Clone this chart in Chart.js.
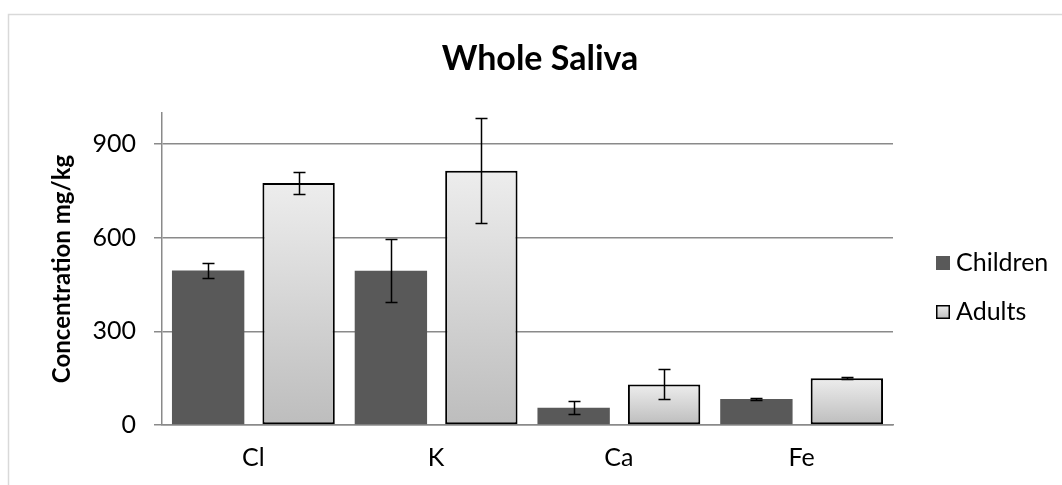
<!DOCTYPE html>
<html>
<head>
<meta charset="utf-8">
<script src="https://cdn.jsdelivr.net/npm/chart.js@4/dist/chart.umd.min.js"></script>
<style>
  html, body { margin: 0; padding: 0; background: #ffffff; }
  #wrap { position: relative; width: 1062px; height: 485px; }
</style>
</head>
<body>
<div id="wrap"><canvas id="c" width="1062" height="485"></canvas></div>
<script>
const categories = ['Cl', 'K', 'Ca', 'Fe'];
const childrenValues = [495, 494, 55, 83];
const childrenErrors = [23, 101, 21, 2];
const adultsValues = [776, 815, 130, 150];
const adultsErrors = [35, 168, 48, 3];
const yTickValues = [0, 300, 600, 900];
const seriesNames = ['Children', 'Adults'];
const chartTitle = 'Whole Saliva';
const yAxisTitle = 'Concentration mg/kg';

const FONT = 'Lato, "Open Sans", sans-serif';
const GRID = '#8a8a8a';

function adultGradient(ctx, top, bottom) {
  const g = ctx.createLinearGradient(0, top, 0, bottom);
  g.addColorStop(0, '#ededed');
  g.addColorStop(1, '#bdbdbd');
  return g;
}

const framePlugin = {
  id: 'frame',
  beforeDraw(chart) {
    const ctx = chart.ctx;
    ctx.save();
    ctx.fillStyle = '#ffffff';
    ctx.fillRect(0, 0, chart.width, chart.height);
    ctx.strokeStyle = '#d9d9d9';
    ctx.lineWidth = 1.5;
    ctx.beginPath();
    ctx.moveTo(8.5, chart.height + 2);
    ctx.lineTo(8.5, 14.5);
    ctx.lineTo(chart.width + 2, 14.5);
    ctx.stroke();
    ctx.restore();
  }
};

const titlePlugin = {
  id: 'customTitle',
  afterDraw(chart) {
    const ctx = chart.ctx;
    ctx.save();
    ctx.font = 'bold 34px ' + FONT;
    ctx.fillStyle = '#000000';
    ctx.textAlign = 'center';
    ctx.textBaseline = 'alphabetic';
    ctx.fillText(chartTitle, 540, 70);
    ctx.restore();
  }
};

const errorBarPlugin = {
  id: 'errorBars',
  afterDatasetsDraw(chart) {
    const ctx = chart.ctx;
    const yScale = chart.scales.y;
    const errs = [childrenErrors, adultsErrors];
    ctx.save();
    ctx.strokeStyle = '#000000';
    ctx.lineWidth = 1.5;
    chart.data.datasets.forEach((ds, di) => {
      const meta = chart.getDatasetMeta(di);
      meta.data.forEach((el, i) => {
        const v = ds.data[i];
        const e = errs[di][i];
        const yt = Math.round(yScale.getPixelForValue(v + e)) + 0.5;
        const yb = Math.round(yScale.getPixelForValue(v - e)) + 0.5;
        const x = Math.round(el.x) + 0.5;
        const cap = 6;
        ctx.beginPath();
        ctx.moveTo(x, yt); ctx.lineTo(x, yb);
        ctx.moveTo(x - cap, yt); ctx.lineTo(x + cap, yt);
        ctx.moveTo(x - cap, yb); ctx.lineTo(x + cap, yb);
        ctx.stroke();
      });
    });
    ctx.restore();
  }
};

const legendPlugin = {
  id: 'customLegend',
  afterDraw(chart) {
    const ctx = chart.ctx;
    const x0 = 936, size = 14;
    const ys = [263, 312];
    ctx.save();
    ctx.font = '25px ' + FONT;
    ctx.textBaseline = 'middle';
    ctx.fillStyle = '#000000';
    seriesNames.forEach((name, i) => {
      const yc = ys[i];
      const top = yc - size / 2;
      if (i === 0) {
        ctx.fillStyle = '#595959';
        ctx.fillRect(x0, top, size, size);
      } else {
        ctx.fillStyle = adultGradient(ctx, top, top + size);
        ctx.fillRect(x0, top, size, size);
        ctx.strokeStyle = '#000000';
        ctx.lineWidth = 1.5;
        ctx.strokeRect(x0 + 0.75, top + 0.75, size - 1.5, size - 1.5);
      }
      ctx.fillStyle = '#000000';
      ctx.fillText(name, x0 + size + 6, yc);
    });
    ctx.restore();
  }
};

new Chart(document.getElementById('c'), {
  type: 'bar',
  data: {
    labels: categories,
    datasets: [
      {
        label: seriesNames[0],
        data: childrenValues,
        backgroundColor: '#595959',
        borderWidth: 0,
        categoryPercentage: 0.99,
        barPercentage: 0.8
      },
      {
        label: seriesNames[1],
        data: adultsValues,
        backgroundColor: (c) => {
          const chart = c.chart;
          if (!chart.chartArea || !chart.scales.y || c.raw === undefined) return '#d6d6d6';
          const ys = chart.scales.y;
          return adultGradient(chart.ctx, ys.getPixelForValue(c.raw), ys.getPixelForValue(0));
        },
        borderColor: '#000000',
        borderWidth: 2,
        borderSkipped: false,
        categoryPercentage: 0.99,
        barPercentage: 0.8
      }
    ]
  },
  options: {
    responsive: false,
    animation: false,
    devicePixelRatio: 1,
    layout: { padding: { left: 0, right: 169, top: 113, bottom: 0 } },
    plugins: {
      legend: { display: false },
      tooltip: { enabled: false },
      title: { display: false }
    },
    scales: {
      x: {
        grid: { display: false, drawTicks: false },
        border: { display: true, color: GRID, width: 1.5 },
        ticks: { color: '#000000', font: { family: FONT, size: 25 }, padding: 18 },
        afterFit(scale) { scale.height = 60; }
      },
      y: {
        min: 0,
        max: 1000,
        afterBuildTicks(scale) { scale.ticks = yTickValues.map(v => ({ value: v })); },
        grid: { color: GRID, lineWidth: 1.5, tickLength: 8, drawTicks: true },
        border: { display: true, color: GRID, width: 1.5 },
        ticks: { color: '#000000', font: { family: FONT, size: 25 }, padding: 18 },
        title: {
          display: true,
          text: yAxisTitle,
          color: '#000000',
          font: { family: FONT, size: 24, weight: 'bold' },
          padding: { top: 48, bottom: 0 }
        },
        afterFit(scale) { scale.width = 162; }
      }
    }
  },
  plugins: [framePlugin, errorBarPlugin, legendPlugin, titlePlugin]
});
</script>
</body>
</html>
